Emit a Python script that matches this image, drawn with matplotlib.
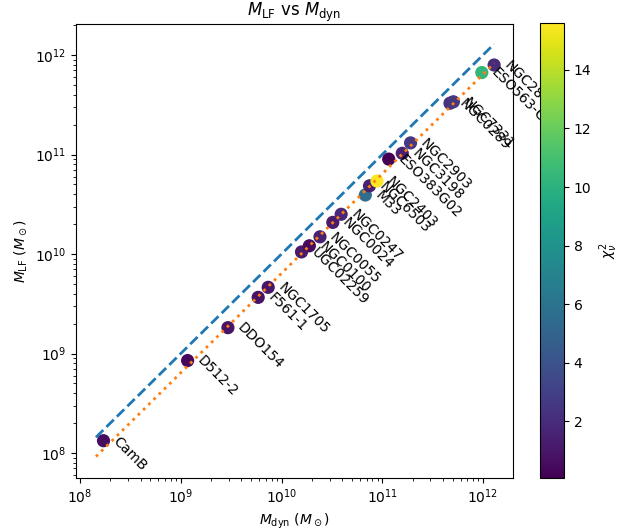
import numpy as np
import matplotlib
matplotlib.use('Agg')
import matplotlib.pyplot as plt

# galaxy names, dynamical mass, light-fit mass and reduced chi^2
names = ['CamB', 'D512-2', 'DDO154', 'F561-1', 'NGC1705', 'UGC02259',
         'NGC0100', 'NGC0055', 'NGC0024', 'NGC0247', 'M33', 'NGC6503',
         'NGC2403', 'ESO383G02', 'NGC3198', 'NGC2903', 'NGC0289',
         'NGC7331', 'ESO563-G021', 'NGC2841']
m_dyn = np.array([1.71e8, 1.17e9, 2.94e9, 5.87e9, 7.38e9, 1.58e10,
                  1.89e10, 2.41e10, 3.23e10, 3.91e10, 6.79e10, 7.48e10,
                  8.87e10, 1.16e11, 1.58e11, 1.91e11, 4.70e11,
                  5.08e11, 9.73e11, 1.29e12])
m_lf = np.array([1.33e8, 8.5e8, 1.82e9, 3.67e9, 4.63e9, 1.05e10,
                 1.21e10, 1.49e10, 2.08e10, 2.51e10, 3.92e10, 4.85e10,
                 5.42e10, 9.0e10, 1.03e11, 1.31e11, 3.28e11,
                 3.39e11, 6.67e11, 7.94e11])
chi2 = np.array([0.6, 0.4, 0.9, 0.8, 1.0, 1.2,
                 0.5, 1.5, 1.2, 1.8, 5.5, 1.5,
                 15.6, 0.07, 1.5, 2.5, 2.3,
                 2.5, 10.3, 2.0])

# end points of the reference lines
line_x = np.array([1.44e8, 1.29e12])
fit_ratio = 0.64

fig = plt.figure(figsize=(6.29, 5.31), dpi=100)
ax = fig.add_axes([0.1208, 0.0998, 0.6948, 0.855])
cax = fig.add_axes([0.8585, 0.0998, 0.0382, 0.857])

sc = ax.scatter(m_dyn, m_lf, c=chi2, cmap='viridis', s=72)
ax.plot(line_x, line_x, '--', color='C0', lw=2)
ax.plot(line_x, fit_ratio * line_x, ':', color='C1', lw=2)

for name, x, y in zip(names, m_dyn, m_lf):
    ax.annotate(name, (x, y), xytext=(5, 5), textcoords='offset points',
                rotation=-45, ha='left', va='top', fontsize=10)

ax.set_xscale('log')
ax.set_yscale('log')
ax.set_xlim(10**7.960, 10**12.298)
ax.set_ylim(10**7.749, 10**12.312)
ax.set_xlabel(r'$M_{\rm dyn}$ ($M_\odot$)')
ax.set_ylabel(r'$M_{\rm LF}$ ($M_\odot$)')
ax.set_title(r'$M_{\rm LF}$ vs $M_{\rm dyn}$')

cb = fig.colorbar(sc, cax=cax)
cb.set_label(r'$\chi^2_\nu$')

fig.savefig('out.png', dpi=100)
